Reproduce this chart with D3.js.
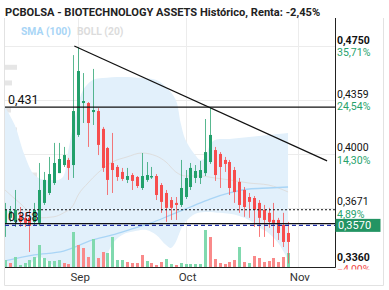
<!DOCTYPE html>
<html><head><meta charset="utf-8">
<script src="https://cdn.jsdelivr.net/npm/d3@7"></script>
<style>body{margin:0;background:#fff}svg{display:block;font-family:Roboto,"Noto Sans",sans-serif}</style>
</head><body><svg id="c" width="389" height="290"></svg>
<script>
// ---- data ----
const title = "PCBOLSA - BIOTECHNOLOGY ASSETS Histórico, Renta: -2,45%";
const dates = ["11/08","12/08","15/08","16/08","17/08","18/08","19/08","22/08","23/08","24/08","25/08","26/08","29/08","30/08","31/08",
"01/09","02/09","05/09","06/09","07/09","08/09","09/09","12/09","13/09","14/09","15/09","16/09","19/09","20/09","21/09","22/09","23/09","26/09","27/09","28/09","29/09","30/09",
"03/10","04/10","05/10","06/10","07/10","10/10","11/10","12/10","13/10","14/10","17/10","18/10","19/10","20/10","21/10","24/10","25/10","26/10","27/10","28/10","31/10","01/11"];
const open  = [0.3584,0.3613,0.3590,0.3630,0.3613,0.3613,0.3590,0.3584,0.3700,0.3759,0.3819,0.3880,0.3930,0.3962,0.3930,0.4123,0.4338,0.4338,0.4276,0.4283,0.4163,0.4038,0.3943,0.3918,0.3887,0.3838,0.3868,0.3856,0.3789,0.3838,0.3853,0.3862,0.3807,0.3759,0.3717,0.3700,0.3688,0.3735,0.3795,0.3850,0.3850,0.3880,0.3949,0.4025,0.4000,0.3962,0.3949,0.3899,0.3826,0.3777,0.3735,0.3729,0.3700,0.3659,0.3642,0.3601,0.3601,0.3572,0.3527];
const high  = [0.3700,0.3682,0.3777,0.3676,0.3642,0.3659,0.3700,0.3943,0.3887,0.3981,0.4071,0.4071,0.4045,0.3975,0.4682,0.4742,0.4550,0.4345,0.4580,0.4303,0.4176,0.4045,0.4136,0.3930,0.3912,0.3912,0.3880,0.3862,0.4006,0.3949,0.3918,0.3874,0.3819,0.3777,0.3735,0.3735,0.3962,0.3899,0.3943,0.3930,0.3956,0.4229,0.4310,0.4045,0.4012,0.3981,0.3962,0.3918,0.3850,0.3795,0.3759,0.3741,0.3717,0.3688,0.3671,0.3700,0.3613,0.3642,0.3590];
const low   = [0.3505,0.3590,0.3561,0.3561,0.3561,0.3422,0.3572,0.3567,0.3688,0.3747,0.3807,0.3880,0.3918,0.3838,0.3850,0.4110,0.4202,0.4045,0.4189,0.3993,0.3887,0.3747,0.3759,0.3832,0.3832,0.3819,0.3777,0.3789,0.3777,0.3826,0.3844,0.3717,0.3642,0.3590,0.3601,0.3601,0.3676,0.3723,0.3777,0.3819,0.3813,0.3862,0.3937,0.3832,0.3789,0.3887,0.3747,0.3700,0.3642,0.3619,0.3613,0.3561,0.3505,0.3505,0.3556,0.3449,0.3488,0.3449,0.3360];
const close = [0.3659,0.3653,0.3659,0.3590,0.3584,0.3567,0.3659,0.3777,0.3838,0.3874,0.3943,0.3968,0.3993,0.3912,0.4283,0.4565,0.4352,0.4202,0.4290,0.4058,0.3912,0.3838,0.3899,0.3856,0.3844,0.3862,0.3832,0.3801,0.3862,0.3868,0.3862,0.3747,0.3706,0.3671,0.3671,0.3688,0.3789,0.3850,0.3912,0.3893,0.3899,0.4012,0.4123,0.3868,0.3918,0.3937,0.3789,0.3765,0.3688,0.3676,0.3706,0.3659,0.3613,0.3601,0.3590,0.3584,0.3527,0.3477,0.3477];
const volume = [70,40,100,20,40,70,100,220,90,60,60,70,40,30,350,220,190,100,280,90,150,140,300,70,70,50,40,40,120,60,40,20,50,80,30,20,40,30,30,30,30,370,300,80,40,30,50,70,200,50,40,110,90,50,60,90,50,100,140];
const volumeUp = [1,0,1,1,1,1,1,1,1,1,1,1,0,0,1,0,0,0,1,0,0,1,1,1,1,0,0,0,0,1,0,0,0,1,1,0,1,1,1,1,1,1,0,0,0,0,0,0,1,0,1,0,0,0,0,0,0,0,1];
// Bollinger (20) and SMA (100), read at sampled candle indices
const upperIdx = [0,2,4,6,8,10,11,12,13,14,15,16,18,20,24,28,31,33,35,36,37,39,40,41,42,43,46,50,54,58];
const upper    = [0.4310,0.4189,0.3993,0.3868,0.3838,0.3838,0.3838,0.3862,0.4025,0.4189,0.4324,0.4429,0.4500,0.4514,0.4522,0.4514,0.4500,0.4450,0.4359,0.4202,0.4090,0.3993,0.3962,0.3975,0.4058,0.4090,0.4097,0.4110,0.4123,0.4136];
const lowerIdx = [0,3,5,7,9,11,13,16,19,20,21,22,24,27,29,31,33,34,35,36,37,39,41,44,46,48,50,52,54,56,58];
const lower    = [0.3325,0.3336,0.3357,0.3395,0.3368,0.3314,0.3246,0.3171,0.3298,0.3336,0.3406,0.3466,0.3516,0.3539,0.3544,0.3516,0.3460,0.3444,0.3477,0.3544,0.3590,0.3636,0.3647,0.3642,0.3636,0.3624,0.3601,0.3561,0.3527,0.3471,0.3379];
const midIdx = [0,3,7,10,12,14,15,17,19,22,25,28,31,33,35,37,40,43,46,50,54,58];
const mid    = [0.3777,0.3700,0.3613,0.3619,0.3642,0.3688,0.3747,0.3819,0.3880,0.3949,0.3981,0.4006,0.3987,0.3949,0.3887,0.3862,0.3862,0.3850,0.3838,0.3819,0.3807,0.3765];
const smaIdx = [0,6,12,18,22,26,30,34,38,42,46,50,54,58];
const sma    = [0.3374,0.3406,0.3427,0.3488,0.3516,0.3550,0.3584,0.3630,0.3676,0.3723,0.3759,0.3783,0.3789,0.3795];
// volume-by-price profile (left)
const profilePrice = [0.4592,0.4479,0.4290,0.4156,0.4110,0.4012,0.3937,0.3868,0.3826,0.3544,0.3505,0.3449];
const profileVol   = [12,7,6,12,13,17,10,32,6,10,8,5];
// axis
const priceTicks = [0.4750,0.43589,0.400045,0.36713,0.3360];
const basePrice = 0.35;
const monthLabels = ["Sep","Oct","Nov"];
const monthIdx = [15,37,60];
// drawn levels
const levelLines = [0.431, 0.358];
const prevClose = 0.366;
const lastPrice = 0.3570;
const trendIdx = [14.2, 66];
const trendPrice = [0.4750, 0.3956];

// ---- drawing ----
const svg = d3.select("#c");
const P = {l:5, r:335, t:18, b:267};
const x = d3.scaleLinear().domain([0,60]).range([5,297.8]);
const y = d3.scaleLog().domain([0.3341,0.4967]).range([P.b,P.t]);
const vy = d3.scaleLinear().domain([0,400]).range([P.b,P.b-40]);
const pw = d3.scaleLinear().domain([0,1]).range([0,1]);
const fmt = v => d3.format(".4f")(v).replace(".",",");
const GREEN="#22a06b", RED="#f74d4d";

svg.append("defs").append("clipPath").attr("id","pc").append("rect")
  .attr("x",P.l).attr("y",P.t).attr("width",P.r-P.l).attr("height",P.b-P.t);
svg.select("defs").append("clipPath").attr("id","ac").append("rect")
  .attr("x",P.r).attr("y",0).attr("width",60).attr("height",269.5);

// frame
const fr = svg.append("g").attr("stroke","#e2e2e2").attr("fill","none");
fr.append("line").attr("x1",4.5).attr("x2",4.5).attr("y1",P.t).attr("y2",285.5);
fr.append("line").attr("x1",383.5).attr("x2",383.5).attr("y1",P.t).attr("y2",285.5);
fr.append("line").attr("x1",4.5).attr("x2",383.5).attr("y1",285.5).attr("y2",285.5);

const g = svg.append("g").attr("clip-path","url(#pc)");
// grid
priceTicks.slice(0,4).forEach(v=>{
  const yy=Math.round(y(v))+0.5;
  g.append("line").attr("x1",P.l).attr("x2",P.r).attr("y1",yy).attr("y2",yy).attr("stroke","#ececec");
});
monthIdx.forEach(i=>{
  const xx=Math.round(x(i))+0.5;
  g.append("line").attr("x1",xx).attr("x2",xx).attr("y1",P.t).attr("y2",P.b).attr("stroke","#ececec");
});
// profile
g.selectAll(".pf").data(profilePrice).join("rect")
  .attr("x",P.l).attr("y",d=>y(d)-2.5).attr("height",5)
  .attr("width",(d,i)=>pw(profileVol[i])).attr("fill","#e6e6e6");
// bollinger band
const up = upperIdx.map((i,k)=>[x(i),y(upper[k])]);
const lo = lowerIdx.map((i,k)=>[x(i),y(lower[k])]).reverse();
const cl = d3.line().curve(d3.curveCatmullRom.alpha(0.5));
g.append("path").attr("d", cl(up) + "L" + cl(lo).slice(1) + "Z").attr("fill","#e2f0fb");
g.append("path").attr("d", d3.line().curve(d3.curveMonotoneX)(midIdx.map((i,k)=>[x(i),y(mid[k])])))
  .attr("fill","none").attr("stroke","#dedede").attr("stroke-width",1);
g.append("path").attr("d", d3.line().curve(d3.curveMonotoneX)(smaIdx.map((i,k)=>[x(i),y(sma[k])])))
  .attr("fill","none").attr("stroke","#a9d5f6").attr("stroke-width",1.3);
// volume
g.selectAll(".v").data(volume).join("rect")
  .attr("x",(d,i)=>Math.round(x(i))-1).attr("width",3)
  .attr("y",d=>vy(d)).attr("height",d=>P.b-vy(d))
  .attr("fill",(d,i)=>volumeUp[i]?"#80d9ae":"#f98a8a");
// candles
const cg = g.append("g");
dates.forEach((d,i)=>{
  const up = close[i]>=open[i], col = up?GREEN:RED, cx = Math.round(x(i));
  cg.append("line").attr("x1",cx+0.5).attr("x2",cx+0.5).attr("y1",y(high[i])).attr("y2",y(low[i]))
    .attr("stroke",col).attr("stroke-opacity",0.75).attr("stroke-width",1);
  const t=y(Math.max(open[i],close[i])), b=y(Math.min(open[i],close[i]));
  cg.append("rect").attr("x",cx-1).attr("width",3).attr("y",t).attr("height",Math.max(1,b-t)).attr("fill",col);
});
// level lines
levelLines.forEach(v=>{
  g.append("line").attr("x1",P.l).attr("x2",P.r).attr("y1",y(v)).attr("y2",y(v)).attr("stroke","#111").attr("stroke-width",1.2);
});
g.append("line").attr("x1",P.l).attr("x2",P.r).attr("y1",y(prevClose)).attr("y2",y(prevClose))
  .attr("stroke","#111").attr("stroke-dasharray","2,2");
g.append("line").attr("x1",P.l).attr("x2",P.r).attr("y1",y(lastPrice)).attr("y2",y(lastPrice))
  .attr("stroke","#1f2fa8").attr("stroke-width",1.2).attr("stroke-dasharray","4,3");
g.append("line").attr("x1",x(trendIdx[0])).attr("x2",x(trendIdx[1])).attr("y1",y(trendPrice[0])).attr("y2",y(trendPrice[1]))
  .attr("stroke","#111").attr("stroke-width",1.2);
levelLines.forEach(v=>{
  g.append("text").attr("x",8).attr("y",y(v)-3).attr("font-size",12.5).attr("fill","#111").text(d3.format(".3f")(v).replace(".",","));
});

// axes lines
svg.append("line").attr("x1",P.r+0.5).attr("x2",P.r+0.5).attr("y1",P.t).attr("y2",P.b+0.5).attr("stroke","#222");
svg.append("line").attr("x1",P.l).attr("x2",P.r+0.5).attr("y1",P.b+0.5).attr("y2",P.b+0.5).attr("stroke","#222");

// right axis labels
const ax = svg.append("g").attr("clip-path","url(#ac)").attr("font-size",10.5);
priceTicks.forEach((v,k)=>{
  const yy=y(v), bold = (k===0||k===priceTicks.length-1);
  ax.append("text").attr("x",337).attr("y",yy-2.5).attr("fill","#111").attr("font-weight",bold?"bold":"normal").text(fmt(v));
  const pct=(v/basePrice-1)*100;
  ax.append("text").attr("x",337).attr("y",yy+10).attr("fill",pct<0?"#f04646":"#27a26c")
    .text(d3.format(".2f")(pct).replace(".",",")+"%");
});
const ly=y(lastPrice);
svg.append("rect").attr("x",P.r+0.5).attr("y",ly-6.5).attr("width",45).attr("height",13).attr("fill","#239463");
svg.append("text").attr("x",338).attr("y",ly+4).attr("font-size",11).attr("fill","#fff").text(fmt(lastPrice));

// x labels
monthLabels.forEach((m,k)=>{
  svg.append("text").attr("x",x(monthIdx[k])+2).attr("y",281).attr("text-anchor","middle")
    .attr("font-size",11.5).attr("fill","#333").text(m);
});
// title + legend
svg.append("text").attr("x",5).attr("y",16).attr("font-size",11.1).attr("font-weight","bold").attr("fill","#222").text(title);
svg.append("text").attr("x",21).attr("y",35).attr("font-size",10.3).attr("font-weight","bold").attr("fill","#a8d5f6").text("SMA (100)");
svg.append("text").attr("x",77).attr("y",35).attr("font-size",10.3).attr("font-weight","bold").attr("fill","#dcdcdc").text("BOLL (20)");
</script></body></html>
